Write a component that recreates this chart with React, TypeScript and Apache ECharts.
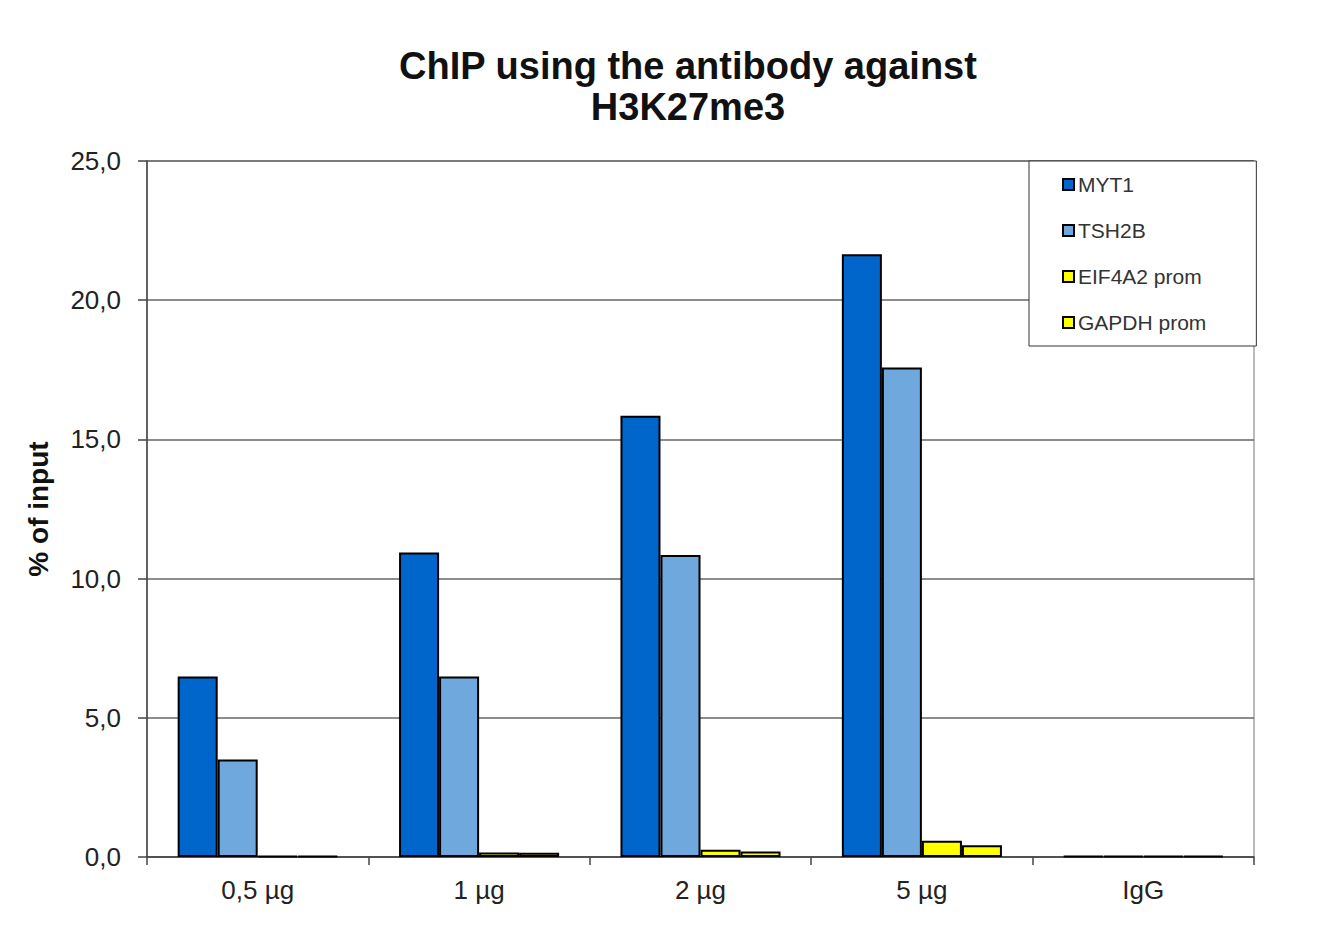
import React, { useEffect, useRef } from "react";
import * as echarts from "echarts";

const categories = ["0,5 µg", "1 µg", "2 µg", "5 µg", "IgG"];
const seriesNames = ["MYT1", "TSH2B", "EIF4A2 prom", "GAPDH prom"];
const myt1 = [6.48, 10.94, 15.85, 21.65];
const tsh2b = [3.5, 6.48, 10.85, 17.58];
const eif4a2 = [0.03, 0.16, 0.26, 0.58];
const gapdh = [0.03, 0.15, 0.2, 0.42];
const igg = [0.03, 0.03, 0.03, 0.03];
const colors = ["#0066CC", "#6FA8DC", "#FFFF00", "#FFFF00"];
const yTicks = [0, 5, 10, 15, 20, 25];

export default function App() {
  const ref = useRef<HTMLDivElement>(null);
  useEffect(() => {
    if (!ref.current) return;
    const chart = echarts.init(ref.current, null, { renderer: "svg" });
    const values = [myt1, tsh2b, eif4a2, gapdh];
    const series = seriesNames.map((name, i) => ({
      name,
      type: "bar",
      data: [...values[i], igg[i]],
      barGap: "0%",
      barCategoryGap: "27.7%",
      itemStyle: { color: colors[i], borderColor: "#000", borderWidth: 2 },
    }));
    chart.setOption({
      animation: false,
      backgroundColor: "#fff",
      title: {
        text: "ChIP using the antibody against\nH3K27me3",
        left: 688,
        top: 45,
        padding: 0,
        textAlign: "center",
        textStyle: {
          fontFamily: "Liberation Sans, Arial, sans-serif",
          fontSize: 38,
          fontWeight: "bold",
          color: "#111",
          lineHeight: 41,
        },
      },
      legend: {
        orient: "vertical",
        left: 1029,
        top: 161,
        padding: [13, 50, 13, 33],
        itemGap: 25,
        itemWidth: 11,
        itemHeight: 11,
        icon: "rect",
        backgroundColor: "#fff",
        borderColor: "#333",
        borderWidth: 1,
        borderRadius: 0,
        data: seriesNames,
        textStyle: {
          fontFamily: "Liberation Sans, Arial, sans-serif",
          fontSize: 21,
          color: "#333",
          padding: [0, 0, 0, -1],
          lineHeight: 21,
        },
        formatter: (n: string) => n,
      },
      grid: {
        left: 147,
        right: 68,
        top: 161,
        bottom: 92,
        show: true,
        borderColor: "#777",
        borderWidth: 1,
        backgroundColor: "transparent",
      },
      xAxis: {
        type: "category",
        data: categories,
        axisLine: { lineStyle: { color: "#444", width: 1.5 } },
        axisTick: { show: true, length: 8, lineStyle: { color: "#444", width: 1.5 } },
        axisLabel: {
          margin: 20,
          fontFamily: "Liberation Sans, Arial, sans-serif",
          fontSize: 26,
          color: "#222",
        },
      },
      yAxis: {
        type: "value",
        min: 0,
        max: 25,
        interval: 5,
        name: "% of input",
        nameLocation: "middle",
        nameGap: 95,
        nameRotate: 90,
        nameTextStyle: {
          fontFamily: "Liberation Sans, Arial, sans-serif",
          fontSize: 28,
          fontWeight: "bold",
          color: "#111",
        },
        axisLine: { show: true, lineStyle: { color: "#444", width: 1.5 } },
        axisTick: { show: true, length: 9, lineStyle: { color: "#444", width: 1.5 } },
        splitLine: { show: true, lineStyle: { color: "#666", width: 1.5 } },
        axisLabel: {
          margin: 26,
          fontFamily: "Liberation Sans, Arial, sans-serif",
          fontSize: 26,
          color: "#222",
          formatter: (v: number) =>
            yTicks.includes(v) ? v.toFixed(1).replace(".", ",") : "",
        },
      },
      series,
    });
    return () => chart.dispose();
  }, []);
  return (
    <div
      ref={ref}
      style={{ position: "fixed", left: 0, top: 0, width: 1322, height: 949 }}
    />
  );
}
